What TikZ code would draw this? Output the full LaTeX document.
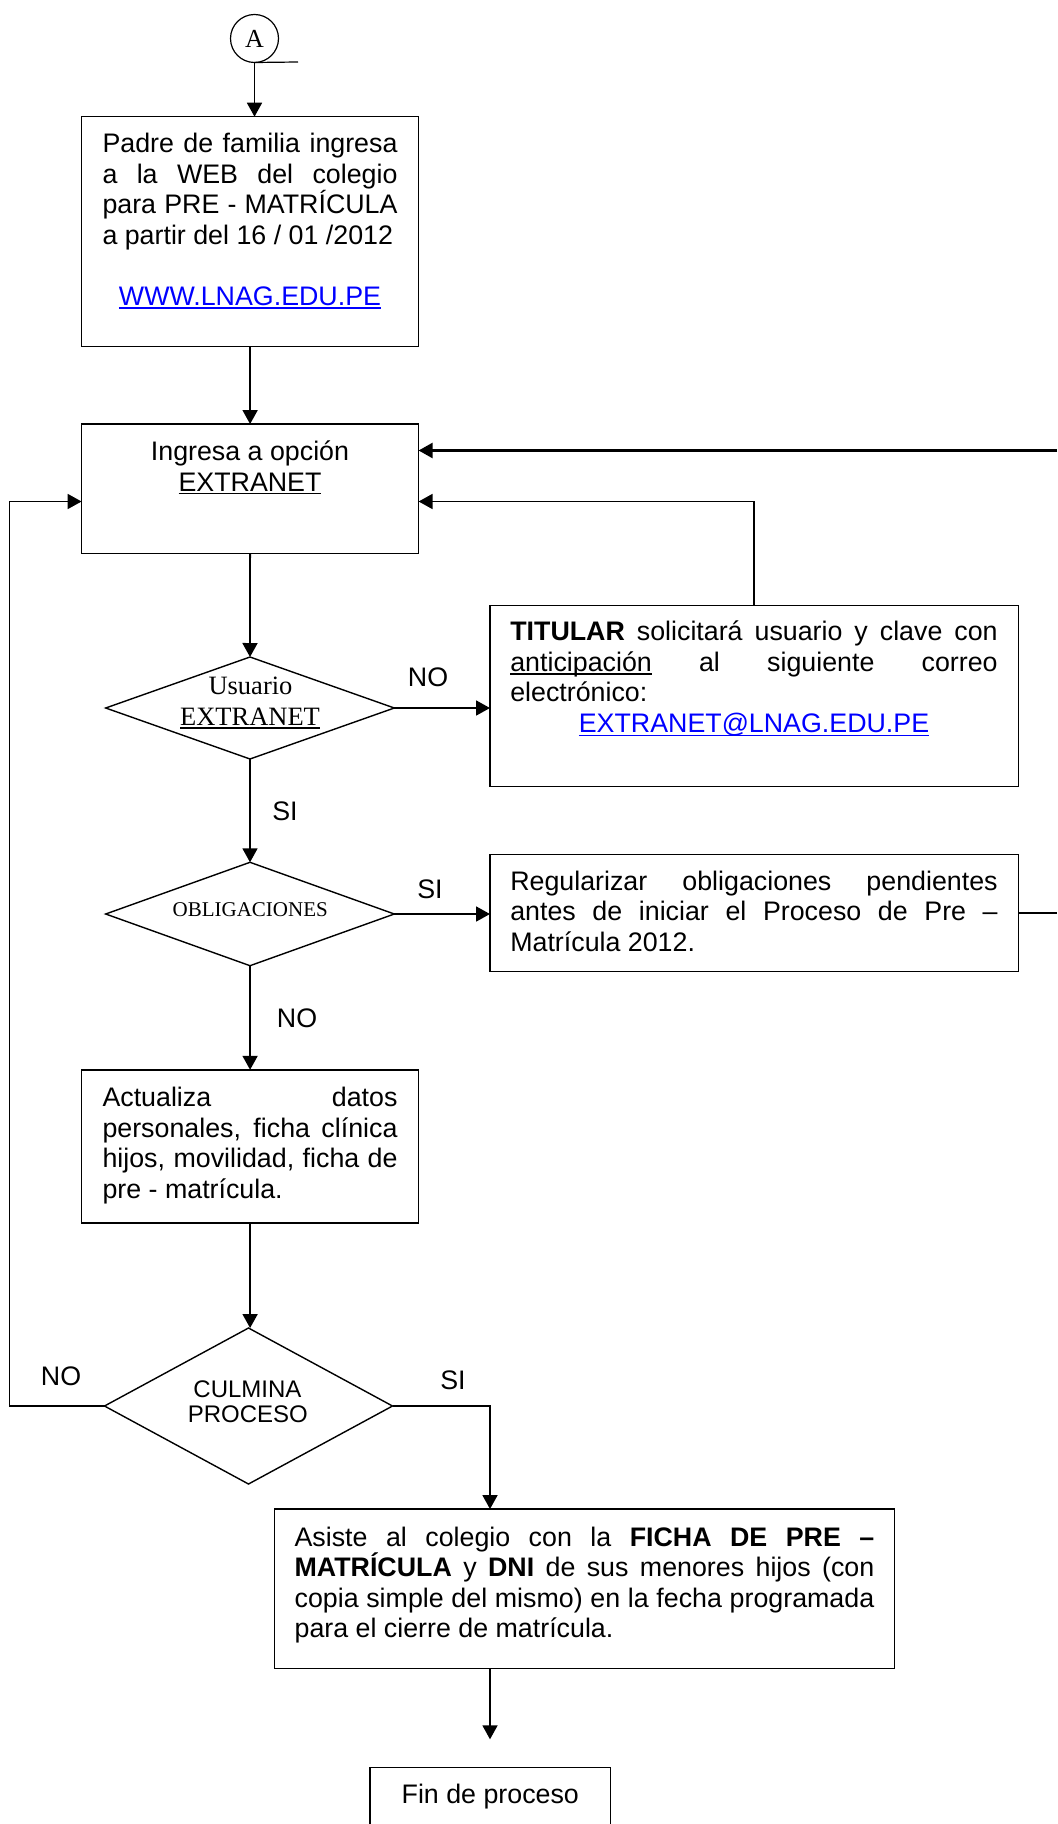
\documentclass[tikz,border=0pt]{standalone}
\usepackage{fontspec}
\setmainfont{Liberation Sans}
\newfontfamily\tnr{Liberation Serif}
\usetikzlibrary{shapes.geometric,arrows.meta,calc}
\definecolor{linkblue}{RGB}{0,0,255}
\newcommand{\txt}{\fontsize{13.4}{15.3}\selectfont}
\newcommand{\rs}{\spaceskip=0pt\xspaceskip=0pt\relax}
\newcommand{\jl}[2]{\makebox[#1][s]{#2}}
\newcommand{\cl}[2]{\makebox[#1][c]{#2}}
\newcommand{\myul}[1]{\leavevmode\setbox0\hbox{#1}\rlap{\rule[-1.7pt]{\wd0}{0.7pt}}\box0\relax}
\tikzset{
  box/.style={draw, line width=0.7pt, inner sep=0pt, outer sep=0pt},
  dec/.style={diamond, draw, line width=0.7pt, inner sep=0pt, outer sep=0pt},
  con/.style={line width=0.9pt},
  arr/.style={con, -{Triangle[length=7pt,width=7.5pt]}},
  para/.style={anchor=base west, inner sep=0pt, outer sep=0pt, align=left, font=\txt},
  lbl/.style={anchor=base, inner sep=0pt, outer sep=0pt, font=\txt},
  tlbl/.style={anchor=base, inner sep=0pt, outer sep=0pt},
}
\begin{document}
\begin{tikzpicture}[x=0.5pt,y=-0.5pt]
\useasboundingbox (0,0) rectangle (1057,1824);

% shapes
\node[circle, draw, line width=0.6pt, minimum size=24pt, inner sep=0pt, outer sep=0pt,
      font=\tnr\fontsize{13}{15}\selectfont] (cA) at (254.5,38.5) {A};
\node[box, minimum width=168.5pt, minimum height=115pt] (b1) at (250.1,231.7) {};
\node[box, minimum width=168.5pt, minimum height=64.85pt] (b2) at (250.1,488.9) {};
\node[dec, minimum width=144.3pt, minimum height=51pt] (d1) at (250,708) {};
\node[box, minimum width=264.3pt, minimum height=90.5pt] (t1) at (754.3,695.8) {};
\node[dec, minimum width=144.3pt, minimum height=51.7pt] (d2) at (250,914) {};
\node[box, minimum width=264.3pt, minimum height=58.4pt] (r1) at (754.3,913.1) {};
\node[box, minimum width=168.5pt, minimum height=76.6pt] (b3) at (250.1,1146.4) {};
\node[dec, minimum width=144pt, minimum height=78pt] (d3) at (248.5,1406) {};
\node[box, minimum width=310.1pt, minimum height=79.85pt] (b4) at (584.5,1588.9) {};
\node[box, minimum width=120.35pt, minimum height=51.15pt] (b5) at (490.35,1818.85) {};

% free ends
\coordinate (aT) at (298,62);
\coordinate (rT) at (1057,450.5);
\coordinate (j1) at (754.3,501.5);
\coordinate (lf) at (9.4,501.5);
\coordinate (fa) at (490,1739.3);

% texts
\node[para, text width=147.5pt] (b1t) at (102.5,152.5) {\rs
\jl{147.5pt}{Padre de familia ingresa}\\
\jl{147.5pt}{a la WEB del colegio}\\
\jl{147.5pt}{para PRE - MATRÍCULA}\\
a partir del 16 / 01 /2012\\[15.3pt]
\cl{147.5pt}{\textcolor{linkblue}{\myul{WWW.LNAG.EDU.PE}}}};

\node[lbl] (b2a) at (250,460.6) {Ingresa a opción};
\node[lbl] (b2b) at (250,491) {\myul{EXTRANET}};

\node[tlbl, font=\tnr\fontsize{13.25}{15}\selectfont] (d1a) at (250.5,694) {Usuario};
\node[tlbl, font=\tnr\fontsize{13.25}{15}\selectfont] (d1b) at (250,725.4) {\myul{EXTRANET}};

\node[para, text width=243.7pt] (t1t) at (510.3,640.7) {\rs
\jl{243.7pt}{\textbf{TITULAR} solicitará usuario y clave con}\\
\jl{243.7pt}{\myul{anticipación} al siguiente correo}\\
electrónico:\\
\cl{243.7pt}{\textcolor{linkblue}{\myul{EXTRANET@LNAG.EDU.PE}}}};

\node[tlbl, font=\tnr\fontsize{10.5}{12}\selectfont] (d2a) at (250.2,916) {OBLIGACIONES};

\node[para, text width=243.7pt] (r1t) at (510.3,890.2) {\rs
\jl{243.7pt}{Regularizar obligaciones pendientes}\\
\jl{243.7pt}{antes de iniciar el Proceso de Pre –}\\
Matrícula 2012.};

\node[para, text width=147.5pt] (b3t) at (102.5,1106.7) {\rs
\jl{147.5pt}{Actualiza datos}\\
\jl{147.5pt}{personales, ficha clínica}\\
\jl{147.5pt}{hijos, movilidad, ficha de}\\
pre - matrícula.};

\node[tlbl, font=\fontsize{12}{13}\selectfont] (d3a) at (247.5,1397) {CULMINA};
\node[tlbl, font=\fontsize{12}{13}\selectfont] (d3b) at (247.8,1422.8) {PROCESO};

\node[para, text width=289.85pt] (b4t) at (294.6,1546) {\rs
\jl{289.85pt}{Asiste al colegio con la \textbf{FICHA DE PRE –}}\\
\jl{289.85pt}{\textbf{MATRÍCULA} y \textbf{DNI} de sus menores hijos (con}\\
\jl{289.85pt}{copia simple del mismo) en la fecha programada}\\
para el cierre de matrícula.};

\node[lbl] (b5t) at (490.3,1803) {Fin de proceso};

% labels
\node[lbl] (lNO1) at (428,686.6) {NO};
\node[lbl] (lSI1) at (285,820.5) {SI};
\node[lbl] (lSI2) at (430,898) {SI};
\node[lbl] (lNO2) at (297,1027) {NO};
\node[lbl] (lNO3) at (61,1385) {NO};
\node[lbl] (lSI3) at (453,1389) {SI};

% connectors
\draw[arr] (cA.south) -- (cA.south |- b1.north);
\draw[con, line width=0.6pt] (cA.south) -- (aT);
\draw[arr] (b1.south) -- (b2.north);
\draw[arr, line width=1.2pt] (rT) -- (rT -| b2.east);
\draw[arr] (t1.north) -- (j1) -- (j1 -| b2.east);
\draw[arr] (b2.south) -- (d1.north);
\draw[arr] (d1.east) -- (d1.east -| t1.west);
\draw[arr] (d1.south) -- (d2.north);
\draw[arr] (d2.east) -- (d2.east -| r1.west);
\draw[con] (r1.east) -- (r1.east -| rT);
\draw[arr] (d2.south) -- (b3.north);
\draw[arr] (b3.south) -- (b3.south |- d3.north);
\draw[arr] (d3.west) -| (lf) -- (lf -| b2.west);
\draw[arr] (d3.east) -| ([xshift=107.8pt]b4.north west);
\draw[arr] ([xshift=107.8pt]b4.south west) -- (fa);
\end{tikzpicture}
\end{document}
